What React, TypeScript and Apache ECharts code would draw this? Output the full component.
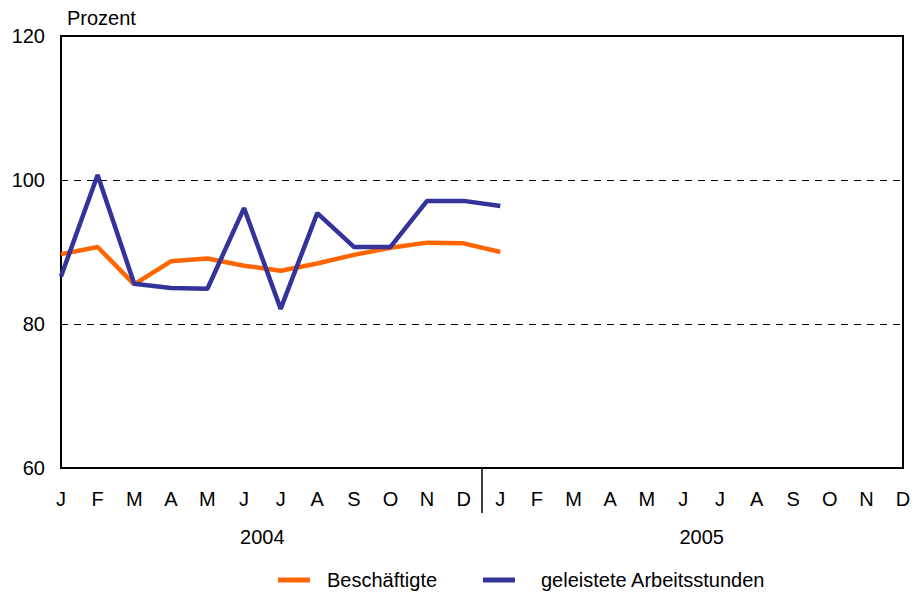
import React, { useEffect, useRef } from "react";
import * as echarts from "echarts";

const months = ["J","F","M","A","M","J","J","A","S","O","N","D","J","F","M","A","M","J","J","A","S","O","N","D"];
const years = ["2004", "2005"];
const beschaeftigte: (number | null)[] = [89.7, 90.7, 85.5, 88.7, 89.1, 88.1, 87.4, 88.4, 89.6, 90.6, 91.3, 91.2, 90.0,
  null, null, null, null, null, null, null, null, null, null, null];
const arbeitsstunden: (number | null)[] = [86.6, 100.7, 85.6, 85.0, 84.9, 96.1, 82.1, 95.4, 90.7, 90.7, 97.1, 97.1, 96.4,
  null, null, null, null, null, null, null, null, null, null, null];
const yTicks = { min: 60, max: 120, interval: 20 };

const FONT = "Liberation Sans, Arial, sans-serif";
const FS = 20;

export default function App() {
  const ref = useRef<HTMLDivElement>(null);
  useEffect(() => {
    if (!ref.current) return;
    const chart = echarts.init(ref.current, null, { renderer: "svg" });
    const legendBase = {
      top: 565, itemWidth: 32, itemHeight: 5, icon: "rect",
    };
    chart.setOption({
      animation: false,
      textStyle: { fontFamily: FONT },
      grid: { left: 61, right: 12, top: 36, bottom: 127, show: true, borderColor: "#000", borderWidth: 2, backgroundColor: "transparent" },
      legend: [
        { ...legendBase, left: 273, data: ["Beschäftigte"], textStyle: { fontSize: FS, color: "#000", fontFamily: FONT, padding: [0, 0, 0, 12] } },
        { ...legendBase, left: 478, data: ["geleistete Arbeitsstunden"], textStyle: { fontSize: FS, color: "#000", fontFamily: FONT, padding: [0, 0, 0, 21] } },
      ],
      xAxis: {
        type: "category", data: months, boundaryGap: false,
        axisLine: { show: true, lineStyle: { color: "#000", width: 2 } },
        axisTick: { show: false },
        axisLabel: { interval: 0, fontSize: FS, color: "#000", margin: 21, fontFamily: FONT },
        splitLine: { show: false },
      },
      yAxis: {
        type: "value", min: yTicks.min, max: yTicks.max, interval: yTicks.interval,
        axisLine: { show: true, lineStyle: { color: "#000", width: 2 } },
        axisTick: { show: false },
        axisLabel: { fontSize: FS, color: "#000", margin: 16, fontFamily: FONT },
        splitLine: { show: true, lineStyle: { color: "#000", type: [7, 6], width: 1 } },
      },
      series: [
        { name: "Beschäftigte", type: "line", data: beschaeftigte, symbol: "none", lineStyle: { color: "#FF6600", width: 4.5 }, itemStyle: { color: "#FF6600" }, z: 2 },
        { name: "geleistete Arbeitsstunden", type: "line", data: arbeitsstunden, symbol: "none", lineStyle: { color: "#333399", width: 4.5 }, itemStyle: { color: "#333399" }, z: 3 },
      ],
    });
    const x0 = chart.convertToPixel({ xAxisIndex: 0 }, 0) as number;
    const x11 = chart.convertToPixel({ xAxisIndex: 0 }, 11) as number;
    const x12 = chart.convertToPixel({ xAxisIndex: 0 }, 12) as number;
    const x23 = chart.convertToPixel({ xAxisIndex: 0 }, 23) as number;
    const yBase = chart.convertToPixel({ yAxisIndex: 0 }, yTicks.min) as number;
    const sep = (x11 + x12) / 2;
    chart.setOption({
      graphic: [
        { type: "text", x: 67, y: 18, style: { text: "Prozent", fontSize: FS, fill: "#000", fontFamily: FONT, verticalAlign: "middle" } },
        { type: "line", shape: { x1: sep, y1: yBase, x2: sep, y2: yBase + 45 }, style: { stroke: "#000", lineWidth: 1.5 } },
        { type: "text", x: (x0 + x11) / 2, y: yBase + 69, style: { text: years[0], fontSize: FS, fill: "#000", fontFamily: FONT, align: "center", verticalAlign: "middle" } },
        { type: "text", x: (x12 + x23) / 2, y: yBase + 69, style: { text: years[1], fontSize: FS, fill: "#000", fontFamily: FONT, align: "center", verticalAlign: "middle" } },
      ],
    });
    return () => chart.dispose();
  }, []);
  return <div ref={ref} style={{ width: 915, height: 595, position: "absolute", left: 0, top: 0 }} />;
}
